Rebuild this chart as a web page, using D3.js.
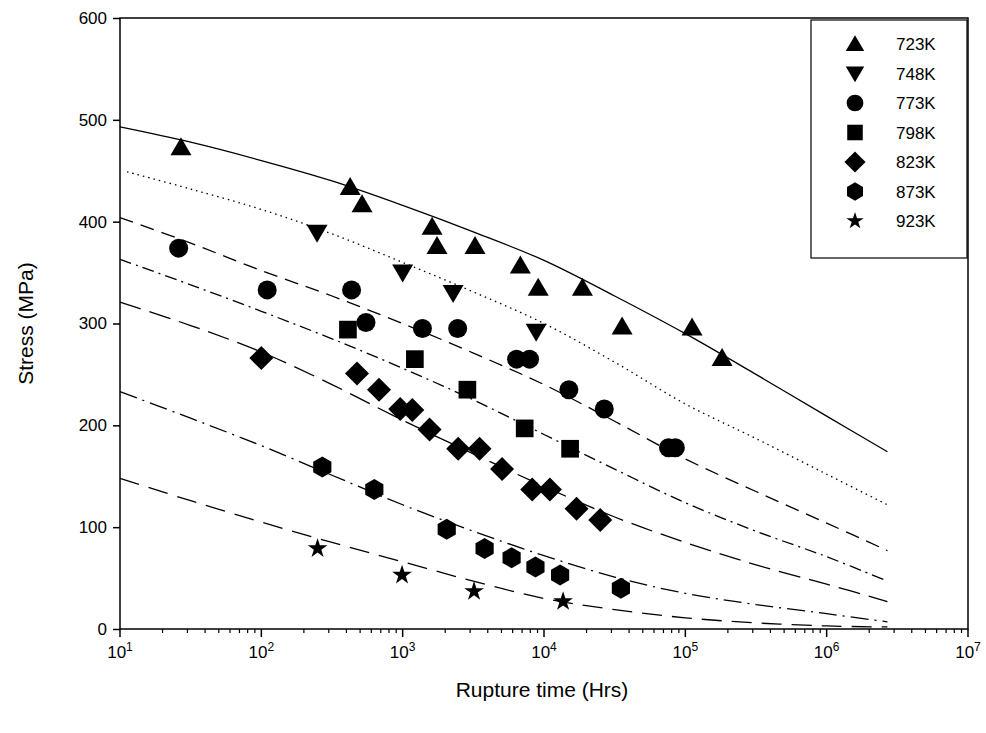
<!DOCTYPE html>
<html><head><meta charset="utf-8">
<script src="https://cdn.jsdelivr.net/npm/d3@7"></script>
<style>body{margin:0;background:#fff}text{font-family:"Liberation Sans",Arial,sans-serif}</style>
</head><body><svg id="chart" width="986" height="733"></svg>
<script>
const temps = ["723K", "748K", "773K", "798K", "823K", "873K", "923K"];
// [rupture time hrs, stress MPa]
const pts723 = [[27,473],[425,434],[516,417],[1615,395],[1750,376],[3250,376],[6800,357],[9100,335],[18700,335],[35700,297],[111600,296],[182000,266]];
const pts748 = [[248,389],[1000,350],[2275,330],[8800,292]];
const pts773 = [[26,374],[110,333],[435,333],[550,301],[1380,295],[2450,295],[6400,265],[7900,265],[15000,235],[26700,216],[76000,178],[85000,178]];
const pts798 = [[410,294],[1220,265],[2870,235],[7300,197],[15300,177]];
const pts823 = [[100,266],[475,251],[680,235],[960,216],[1170,215],[1550,196],[2470,177],[3500,177],[5050,157],[8250,137],[11000,137],[17000,118],[25000,107]];
const pts873 = [[270,159],[630,137],[2050,98],[3800,79],[5900,70],[8700,61],[13000,53],[35000,40]];
const pts923 = [[250,79],[990,53],[3200,37],[13650,27]];
const points = [pts723, pts748, pts773, pts798, pts823, pts873, pts923];

// fitted curves: [log10 time, stress]
const fit723 = [[1,493],[1.5,478],[2,460],[2.5,440],[3,416],[3.5,390],[4,362],[4.5,327],[5,290],[5.5,250],[6,209],[6.43,174]];
const fit748 = [[1.05,449],[1.5,432],[2,412],[2.5,388],[3,360],[3.5,331],[4,300],[4.5,262],[5,221],[5.5,187],[6,152],[6.43,122]];
const fit773 = [[1,404],[1.5,379],[2,352],[2.5,327],[3,300],[3.5,271],[4,240],[4.5,204],[5,167],[5.5,135],[6,104],[6.43,77]];
const fit798 = [[1,363],[1.5,338],[2,312],[2.5,285],[3,256],[3.5,225],[4,191],[4.5,157],[5,124],[5.5,96],[6,71],[6.43,47]];
const fit823 = [[1,321],[1.5,298],[2,272],[2.5,240],[3,205],[3.5,172],[4,140],[4.5,110],[5,85],[5.5,63],[6,44],[6.43,27]];
const fit873 = [[1,233],[1.5,207],[2,180],[2.5,151],[3,122],[3.5,96],[4,72],[4.5,51],[5,35],[5.5,24],[6,15],[6.43,7]];
const fit923 = [[1,148],[1.5,126],[2,105],[2.5,85],[3,66],[3.5,47],[4,30],[4.5,19],[5,11],[5.5,6],[6,3],[6.43,2]];
const fits = [fit723, fit748, fit773, fit798, fit823, fit873, fit923];
const dashes = [null, "1.5,4", "14,8", "12,5,2,5", "22,9", "18,6,2,6", "20,10"];

const yTicks = [0, 100, 200, 300, 400, 500, 600];
const xDecades = [1, 2, 3, 4, 5, 6, 7];

const svg = d3.select("#chart");
const mL = 120, mR = 968, mT = 18, mB = 629;
const x = d3.scaleLog().domain([10, 1e7]).range([mL, mR]);
const y = d3.scaleLinear().domain([0, 600]).range([mB, mT]);

// frame
svg.append("rect").attr("x", mL).attr("y", mT).attr("width", mR - mL).attr("height", mB - mT)
  .attr("fill", "none").attr("stroke", "#000").attr("stroke-width", 1.5);

const yAxis = svg.append("g").attr("transform", `translate(${mL},0)`)
  .call(d3.axisLeft(y).tickValues(yTicks).tickSize(7).tickPadding(6));
yAxis.select(".domain").remove();
yAxis.selectAll("text").attr("font-size", 17).attr("fill", "#000");
yAxis.selectAll("line").attr("stroke-width", 1.5);

const minor = [];
for (let d = 1; d < 7; d++) for (let m = 2; m < 10; m++) minor.push(m * Math.pow(10, d));
svg.append("g").selectAll("line").data(minor).join("line")
  .attr("x1", d => x(d)).attr("x2", d => x(d)).attr("y1", mB).attr("y2", mB + 4)
  .attr("stroke", "#000").attr("stroke-width", 1.2);
const xg = svg.append("g").selectAll("g").data(xDecades).join("g")
  .attr("transform", d => `translate(${x(Math.pow(10, d))},${mB})`);
xg.append("line").attr("y2", 8).attr("stroke", "#000").attr("stroke-width", 1.5);
const xt = xg.append("text").attr("y", 29).attr("text-anchor", "middle").attr("font-size", 17);
xt.append("tspan").text("10");
xt.append("tspan").attr("dy", -7).attr("font-size", 12).text(d => d);

svg.append("text").attr("x", (mL + mR) / 2 - 2).attr("y", 697).attr("text-anchor", "middle")
  .attr("font-size", 21).text("Rupture time (Hrs)");
svg.append("text").attr("transform", `translate(33,${(mT + mB) / 2}) rotate(-90)`)
  .attr("text-anchor", "middle").attr("font-size", 21).text("Stress (MPa)");

const line = d3.line().x(d => x(Math.pow(10, d[0]))).y(d => y(d[1])).curve(d3.curveCatmullRom);
svg.append("g").selectAll("path").data(fits).join("path")
  .attr("d", line).attr("fill", "none").attr("stroke", "#000").attr("stroke-width", 1.3)
  .attr("stroke-dasharray", (d, i) => dashes[i]);

const poly = (n, r, a0) => "M" + d3.range(n).map(k => {
  const a = a0 + k * 2 * Math.PI / n;
  return [r * Math.cos(a), r * Math.sin(a)];
}).join("L") + "Z";
function marker(g, i, k) {
  let d;
  if (i === 0) d = `M0,${-10 * k}L${10.5 * k},${8 * k}L${-10.5 * k},${8 * k}Z`;
  else if (i === 1) d = `M0,${10 * k}L${10.5 * k},${-8 * k}L${-10.5 * k},${-8 * k}Z`;
  else if (i === 2) d = d3.symbol(d3.symbolCircle, Math.PI * 9.5 * 9.5 * k * k)();
  else if (i === 3) d = poly(4, 12.5 * k, Math.PI / 4);
  else if (i === 4) d = poly(4, 12 * k, 0);
  else if (i === 5) d = poly(6, 10.5 * k, Math.PI / 6);
  else d = d3.symbol(d3.symbolStar, 120 * k * k)();
  g.append("path").attr("d", d);
}
points.forEach((ser, i) => {
  ser.forEach(p => {
    const g = svg.append("g").attr("transform", `translate(${x(p[0])},${y(p[1])})`);
    marker(g, i, 1);
  });
});

// legend
svg.append("rect").attr("x", 811).attr("y", 20).attr("width", 156).attr("height", 238)
  .attr("fill", "#fff").attr("stroke", "#000").attr("stroke-width", 1.2);
temps.forEach((t, i) => {
  const cy = 44 + i * 29.5;
  const g = svg.append("g").attr("transform", `translate(855,${cy})`);
  marker(g, i, 0.88);
  svg.append("text").attr("x", 896).attr("y", cy + 6).attr("font-size", 17).text(t);
});
</script></body></html>
